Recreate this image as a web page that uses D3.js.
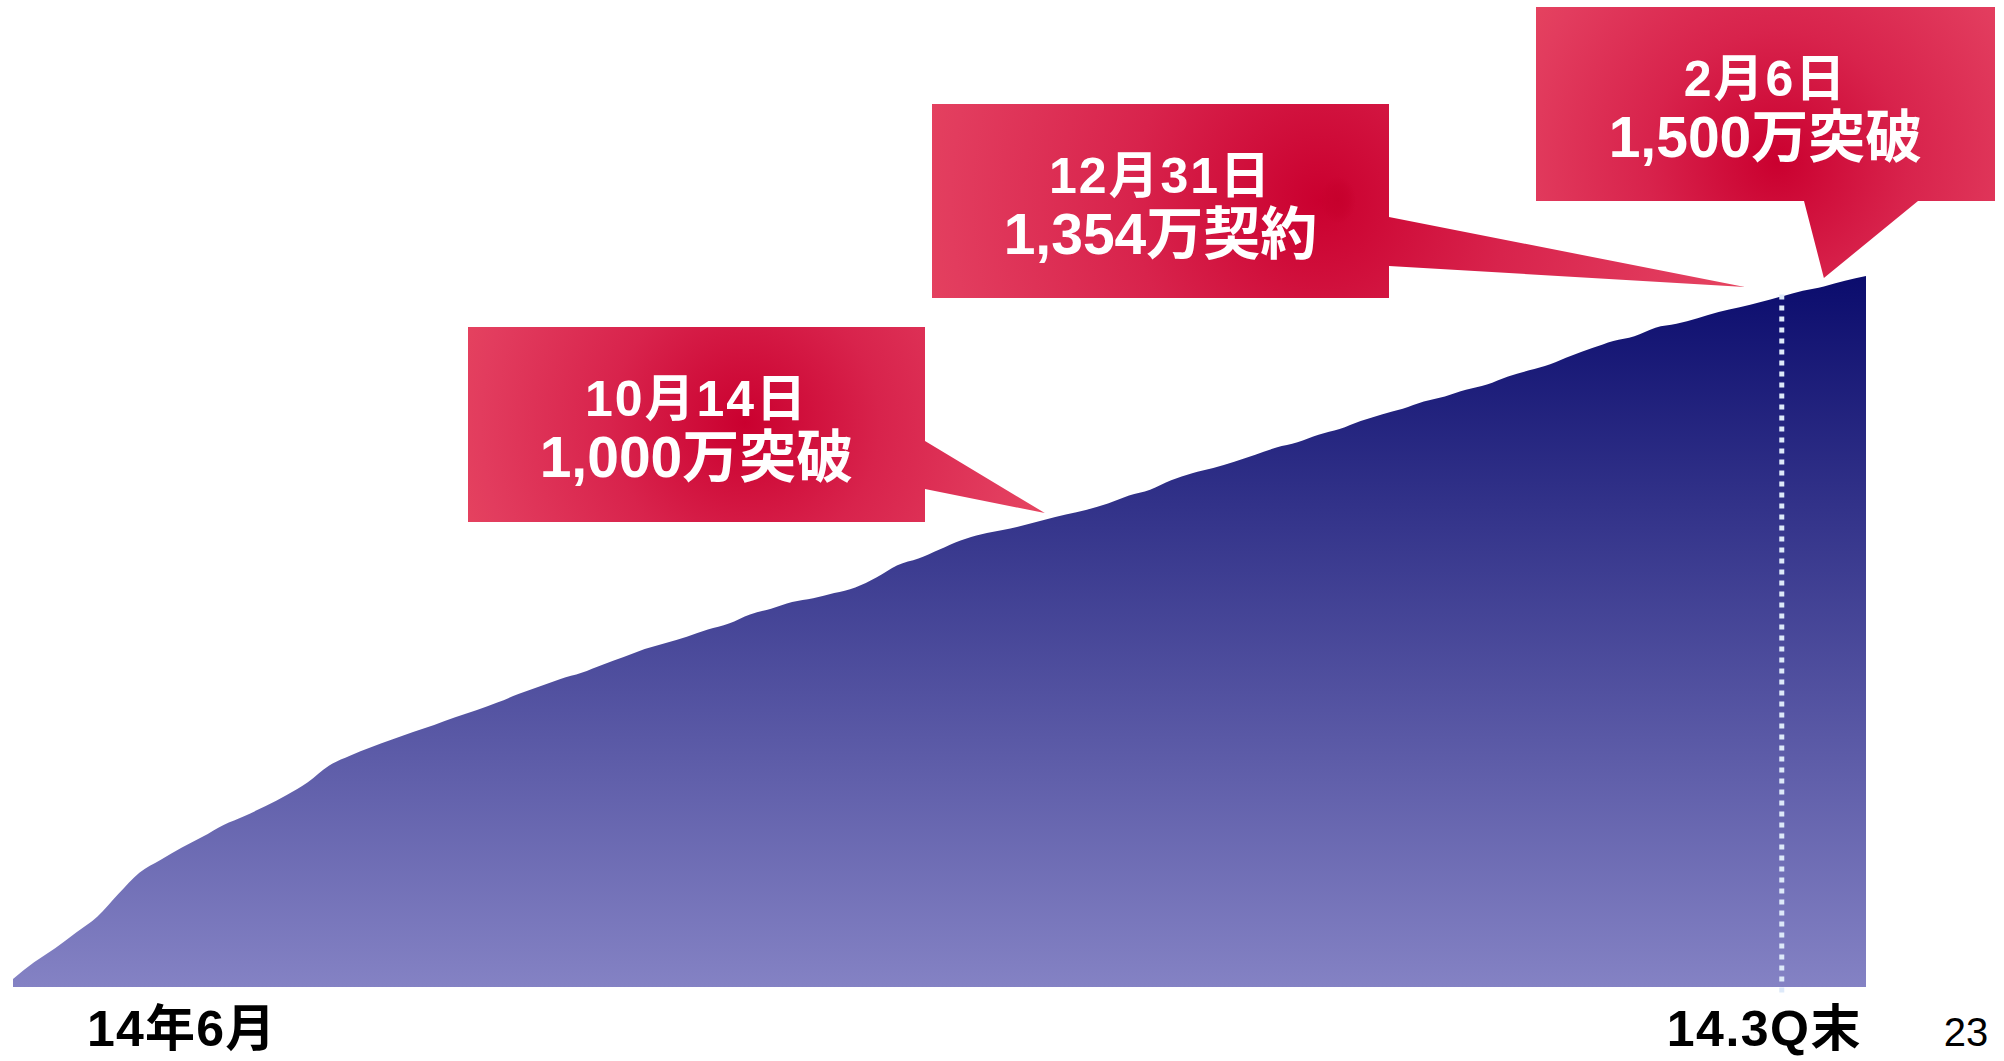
<!DOCTYPE html>
<html lang="ja">
<head>
<meta charset="utf-8">
<title>新料金プラン 申込数推移</title>
<script src="https://cdn.jsdelivr.net/npm/d3@7"></script>
<style>
  html, body { margin: 0; padding: 0; background: #ffffff; }
  svg { display: block; }
  text { font-family: "Liberation Sans", "Noto Sans CJK JP", sans-serif; }
</style>
</head>
<body>
<script>
// Cumulative applications (万件), sampled at equal steps from 14年6月 onward
const series = [
  17, 52, 82, 115, 148, 196, 241, 268, 294, 317,
  342, 361, 382, 405, 432, 467, 488, 506, 522, 538,
  553, 569, 584, 600, 618, 634, 650, 663, 680, 696,
  713, 726, 739, 754, 767, 786, 798, 812, 820, 831,
  843, 864, 890, 904, 923, 942, 955, 964, 974, 986,
  997, 1007, 1020, 1037, 1049, 1069, 1084, 1095, 1108, 1123,
  1138, 1149, 1165, 1177, 1194, 1208, 1220, 1235, 1246, 1260,
  1271, 1288, 1301, 1314, 1332, 1348, 1363, 1373, 1391, 1399,
  1411, 1424, 1434, 1445, 1457, 1469, 1478, 1490, 1500
];

// Axis labels and the step where the quarter ends
const startLabel = "14年6月";
const quarterEndLabel = "14.3Q末";
const quarterEndIndex = 84;
const pageNumber = "23";

// Milestone callouts
const milestoneDates = ["10月14日", "12月31日", "2月6日"];
const milestoneFigures = ["1,000万突破", "1,354万契約", "1,500万突破"];
const milestoneIndex = [49, 82.25, 86];

const W = 2004, H = 1061;

const svg = d3.select("body").append("svg")
  .attr("width", W).attr("height", H)
  .attr("viewBox", `0 0 ${W} ${H}`);

const x = d3.scaleLinear().domain([0, series.length - 1]).range([13, 1866]);
const y = d3.scaleLinear().domain([0, 1500]).range([987, 276]);

const defs = svg.append("defs");

// Area fill: deep navy at the top to lavender at the base
const areaGrad = defs.append("linearGradient")
  .attr("id", "areaFill")
  .attr("gradientUnits", "userSpaceOnUse")
  .attr("x1", 0).attr("y1", y(1500)).attr("x2", 0).attr("y2", y(0));
areaGrad.append("stop").attr("offset", 0).attr("stop-color", "#0b0c6d");
areaGrad.append("stop").attr("offset", 1).attr("stop-color", "#8482c4");

const area = d3.area()
  .x((d, i) => x(i))
  .y0(y(0))
  .y1(d => y(d))
  .curve(d3.curveMonotoneX);

svg.append("path")
  .datum(series)
  .attr("d", area)
  .attr("fill", "url(#areaFill)");

// Quarter-end marker
svg.append("line")
  .attr("x1", x(quarterEndIndex)).attr("x2", x(quarterEndIndex))
  .attr("y1", y(series[quarterEndIndex]) - 2)
  .attr("y2", y(0) + 10)
  .attr("stroke", "#dde9f9")
  .attr("stroke-width", 5)
  .attr("stroke-dasharray", "5 6");

// Axis labels
svg.append("text")
  .attr("x", x(0) + 74).attr("y", 1046)
  .attr("font-size", 50).attr("font-weight", "bold")
  .attr("letter-spacing", 1.2)
  .attr("fill", "#000")
  .text(startLabel);

svg.append("text")
  .attr("x", x(series.length - 1) - 4).attr("y", 1046)
  .attr("text-anchor", "end")
  .attr("font-size", 50).attr("font-weight", "bold")
  .attr("letter-spacing", 1.5)
  .attr("fill", "#000")
  .text(quarterEndLabel);

svg.append("text")
  .attr("x", 1966).attr("y", 1046)
  .attr("text-anchor", "middle")
  .attr("font-size", 40)
  .attr("fill", "#000")
  .text(pageNumber);

// Callout boxes: rectangle plus a pointer aimed at the curve
function valueAt(idx) {
  const i0 = Math.floor(idx), i1 = Math.min(series.length - 1, i0 + 1);
  return series[i0] + (series[i1] - series[i0]) * (idx - i0);
}

const callouts = [
  { box: [468, 327, 457, 195], side: "right", base: [441, 489],
    tip: [x(milestoneIndex[0]), y(1000)], glow: [745, 423, 300] },
  { box: [932, 104, 457, 194], side: "right", base: [217, 266],
    tip: [x(milestoneIndex[1]), y(valueAt(milestoneIndex[1])) - 19], glow: [1320, 200, 420] },
  { box: [1536, 7, 459, 194], side: "bottom", base: [1804, 1918],
    tip: [x(milestoneIndex[2]), y(1500) + 2], glow: [1777, 162, 290] }
];

callouts.forEach((c, k) => {
  const [bx, by, bw, bh] = c.box;
  const g = defs.append("radialGradient")
    .attr("id", "callFill" + k)
    .attr("gradientUnits", "userSpaceOnUse")
    .attr("cx", c.glow[0]).attr("cy", c.glow[1]).attr("r", c.glow[2]);
  g.append("stop").attr("offset", 0).attr("stop-color", "#ca002f");
  g.append("stop").attr("offset", 0.45).attr("stop-color", "#d8234c");
  g.append("stop").attr("offset", 0.88).attr("stop-color", "#e23c5e");
  g.append("stop").attr("offset", 1).attr("stop-color", "#e5435f");

  const p = d3.path();
  p.moveTo(bx, by);
  p.lineTo(bx + bw, by);
  if (c.side === "right") {
    p.lineTo(bx + bw, c.base[0]);
    p.lineTo(c.tip[0], c.tip[1]);
    p.lineTo(bx + bw, c.base[1]);
    p.lineTo(bx + bw, by + bh);
    p.lineTo(bx, by + bh);
  } else {
    p.lineTo(bx + bw, by + bh);
    p.lineTo(c.base[1], by + bh);
    p.lineTo(c.tip[0], c.tip[1]);
    p.lineTo(c.base[0], by + bh);
    p.lineTo(bx, by + bh);
  }
  p.closePath();

  svg.append("path")
    .attr("d", p.toString())
    .attr("fill", `url(#callFill${k})`);

  const cx = bx + bw / 2;
  svg.append("text")
    .attr("x", cx).attr("y", by + 89)
    .attr("text-anchor", "middle")
    .attr("font-size", 50).attr("font-weight", "bold")
    .attr("letter-spacing", 2)
    .attr("fill", "#fff")
    .text(milestoneDates[k]);
  svg.append("text")
    .attr("x", cx).attr("y", by + 150)
    .attr("text-anchor", "middle")
    .attr("font-size", 57).attr("font-weight", "bold")
    .attr("fill", "#fff")
    .text(milestoneFigures[k]);
});

// Small dark spot inside the second callout
const spot = defs.append("radialGradient").attr("id", "spot");
spot.append("stop").attr("offset", 0).attr("stop-color", "#c6002c").attr("stop-opacity", 0.9);
spot.append("stop").attr("offset", 0.6).attr("stop-color", "#c6002c").attr("stop-opacity", 0.5);
spot.append("stop").attr("offset", 1).attr("stop-color", "#c6002c").attr("stop-opacity", 0);
svg.append("ellipse")
  .attr("cx", 1338).attr("cy", 200).attr("rx", 18).attr("ry", 24)
  .attr("fill", "url(#spot)");
</script>
</body>
</html>
